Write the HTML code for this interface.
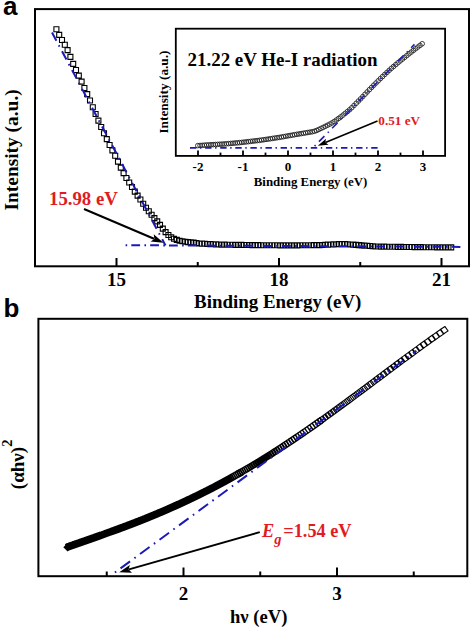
<!DOCTYPE html>
<html><head><meta charset="utf-8"><style>
html,body{margin:0;padding:0;background:#fff;width:472px;height:628px;overflow:hidden}
svg{display:block}
.s{font-family:"Liberation Serif",serif;font-weight:bold}
.ss{font-family:"Liberation Sans",sans-serif!important;font-weight:bold}
text{font-family:"Liberation Serif",serif}
</style></head><body>
<svg width="472" height="628" viewBox="0 0 472 628"><rect x="35" y="9.1" width="434" height="257.2" fill="none" stroke="#000" stroke-width="2"/>
<line x1="116.5" y1="266" x2="116.5" y2="258" stroke="#000" stroke-width="2"/>
<line x1="279" y1="266" x2="279" y2="258" stroke="#000" stroke-width="2"/>
<line x1="441.5" y1="266" x2="441.5" y2="258" stroke="#000" stroke-width="2"/>
<line x1="197.75" y1="266" x2="197.75" y2="262" stroke="#000" stroke-width="2"/>
<line x1="360.25" y1="266" x2="360.25" y2="262" stroke="#000" stroke-width="2"/>
<path d="M53.9 26.7h5v5h-5zM56.7 32.39h5v5h-5zM59.5 37.49h5v5h-5zM62.3 42.24h5v5h-5zM65.1 47.66h5v5h-5zM67.9 54.41h5v5h-5zM70.7 61.36h5v5h-5zM73.5 67.46h5v5h-5zM76.3 73.09h5v5h-5zM79.1 79.11h5v5h-5zM81.9 85.49h5v5h-5zM84.7 91.66h5v5h-5zM87.5 97.99h5v5h-5zM90.3 104.78h5v5h-5zM93.1 111.54h5v5h-5zM95.9 118.11h5v5h-5zM98.7 124.55h5v5h-5zM101.5 130.71h5v5h-5zM104.3 136.66h5v5h-5zM107.1 142.43h5v5h-5zM109.9 147.89h5v5h-5zM112.7 153.29h5v5h-5zM115.5 159.13h5v5h-5zM118.3 165.17h5v5h-5zM121.1 170.65h5v5h-5zM123.9 175.44h5v5h-5zM126.7 179.93h5v5h-5zM129.5 184.56h5v5h-5zM132.3 189.08h5v5h-5zM135.1 193.08h5v5h-5zM137.9 197.03h5v5h-5zM140.7 201.29h5v5h-5zM143.5 205.3h5v5h-5zM146.3 208.73h5v5h-5zM149.1 212.19h5v5h-5zM151.9 215.65h5v5h-5zM154.7 218.9h5v5h-5zM157.5 222.36h5v5h-5zM160.3 226.09h5v5h-5zM163.1 229.63h5v5h-5zM165.9 232.56h5v5h-5zM168.7 234.73h5v5h-5zM171.5 236.29h5v5h-5zM174.3 237.42h5v5h-5zM177.1 238.21h5v5h-5zM179.9 238.79h5v5h-5zM182.7 239.27h5v5h-5zM185.5 239.63h5v5h-5zM188.3 239.89h5v5h-5zM191.1 240.15h5v5h-5zM193.9 240.52h5v5h-5zM196.7 240.93h5v5h-5zM199.5 241.17h5v5h-5zM202.3 241.32h5v5h-5zM205.1 241.46h5v5h-5zM207.9 241.6h5v5h-5zM210.7 241.75h5v5h-5zM213.5 241.89h5v5h-5zM216.3 242.02h5v5h-5zM219.1 242.11h5v5h-5zM221.9 242.17h5v5h-5zM224.7 242.21h5v5h-5zM227.5 242.25h5v5h-5zM230.3 242.29h5v5h-5zM233.1 242.33h5v5h-5zM235.9 242.38h5v5h-5zM238.7 242.42h5v5h-5zM241.5 242.46h5v5h-5zM244.3 242.5h5v5h-5zM247.1 242.54h5v5h-5zM249.9 242.59h5v5h-5zM252.7 242.63h5v5h-5zM255.5 242.67h5v5h-5zM258.3 242.7h5v5h-5zM261.1 242.72h5v5h-5zM263.9 242.74h5v5h-5zM266.7 242.76h5v5h-5zM269.5 242.78h5v5h-5zM272.3 242.8h5v5h-5zM275.1 242.82h5v5h-5zM277.9 242.84h5v5h-5zM280.7 242.85h5v5h-5zM283.5 242.87h5v5h-5zM286.3 242.89h5v5h-5zM289.1 242.88h5v5h-5zM291.9 242.86h5v5h-5zM294.7 242.83h5v5h-5zM297.5 242.8h5v5h-5zM300.3 242.77h5v5h-5zM303.1 242.74h5v5h-5zM305.9 242.72h5v5h-5zM308.7 242.69h5v5h-5zM311.5 242.66h5v5h-5zM314.3 242.63h5v5h-5zM317.1 242.58h5v5h-5zM319.9 242.47h5v5h-5zM322.7 242.32h5v5h-5zM325.5 242.17h5v5h-5zM328.3 242.02h5v5h-5zM331.1 241.88h5v5h-5zM333.9 241.77h5v5h-5zM336.7 241.67h5v5h-5zM339.5 241.59h5v5h-5zM342.3 241.58h5v5h-5zM345.1 241.71h5v5h-5zM347.9 241.93h5v5h-5zM350.7 242.16h5v5h-5zM353.5 242.38h5v5h-5zM356.3 242.61h5v5h-5zM359.1 242.84h5v5h-5zM361.9 243.08h5v5h-5zM364.7 243.32h5v5h-5zM367.5 243.57h5v5h-5zM370.3 243.8h5v5h-5zM373.1 243.97h5v5h-5zM375.9 244.05h5v5h-5zM378.7 244.1h5v5h-5zM381.5 244.14h5v5h-5zM384.3 244.19h5v5h-5zM387.1 244.23h5v5h-5zM389.9 244.28h5v5h-5zM392.7 244.32h5v5h-5zM395.5 244.37h5v5h-5zM398.3 244.41h5v5h-5zM401.1 244.45h5v5h-5zM403.9 244.49h5v5h-5zM406.7 244.52h5v5h-5zM409.5 244.56h5v5h-5zM412.3 244.6h5v5h-5zM415.1 244.63h5v5h-5zM417.9 244.67h5v5h-5zM420.7 244.71h5v5h-5zM423.5 244.75h5v5h-5zM426.3 244.78h5v5h-5zM429.1 244.8h5v5h-5zM431.9 244.82h5v5h-5zM434.7 244.83h5v5h-5zM437.5 244.85h5v5h-5zM440.3 244.86h5v5h-5zM443.1 244.87h5v5h-5zM445.9 244.88h5v5h-5zM448.7 244.9h5v5h-5z" fill="none" stroke="#000" stroke-width="1.1"/>
<line x1="84" y1="209" x2="154.01" y2="238.71" stroke="#000" stroke-width="2"/>
<path d="M163.4 242.7L150.61 241.62L154.42 238.89L153.73 234.25Z" fill="#000"/>
<text x="3" y="15.4" class="ss" font-size="26">a</text>
<text x="116.5" y="285.8" text-anchor="middle" class="s" font-size="19">15</text>
<text x="279" y="285.8" text-anchor="middle" class="s" font-size="19">18</text>
<text x="441.5" y="285.8" text-anchor="middle" class="s" font-size="19">21</text>
<text x="194" y="308.2" class="s" font-size="18.95">Binding Energy (eV)</text>
<text transform="translate(18 210.5) rotate(-90)" class="s" font-size="19.4">Intensity (a.u.)</text>
<text x="49" y="204.5" class="s" font-size="18.8" fill="#e01b24">15.98 eV</text>
<rect x="175.8" y="28.7" width="269.3" height="127.2" fill="none" stroke="#000" stroke-width="1.8"/>
<line x1="198" y1="155.6" x2="198" y2="150.4" stroke="#000" stroke-width="1.8"/>
<line x1="220.5" y1="155.6" x2="220.5" y2="152.6" stroke="#000" stroke-width="1.8"/>
<line x1="243" y1="155.6" x2="243" y2="150.4" stroke="#000" stroke-width="1.8"/>
<line x1="265.5" y1="155.6" x2="265.5" y2="152.6" stroke="#000" stroke-width="1.8"/>
<line x1="288" y1="155.6" x2="288" y2="150.4" stroke="#000" stroke-width="1.8"/>
<line x1="310.5" y1="155.6" x2="310.5" y2="152.6" stroke="#000" stroke-width="1.8"/>
<line x1="333" y1="155.6" x2="333" y2="150.4" stroke="#000" stroke-width="1.8"/>
<line x1="355.5" y1="155.6" x2="355.5" y2="152.6" stroke="#000" stroke-width="1.8"/>
<line x1="378" y1="155.6" x2="378" y2="150.4" stroke="#000" stroke-width="1.8"/>
<line x1="400.5" y1="155.6" x2="400.5" y2="152.6" stroke="#000" stroke-width="1.8"/>
<line x1="423" y1="155.6" x2="423" y2="150.4" stroke="#000" stroke-width="1.8"/>
<text x="198" y="170.6" text-anchor="middle" class="s" font-size="13">-2</text>
<text x="243" y="170.6" text-anchor="middle" class="s" font-size="13">-1</text>
<text x="288" y="170.6" text-anchor="middle" class="s" font-size="13">0</text>
<text x="333" y="170.6" text-anchor="middle" class="s" font-size="13">1</text>
<text x="378" y="170.6" text-anchor="middle" class="s" font-size="13">2</text>
<text x="423" y="170.6" text-anchor="middle" class="s" font-size="13">3</text>
<text x="253.8" y="185.9" class="s" font-size="12.85">Binding Energy (eV)</text>
<text transform="translate(167.8 133.6) rotate(-90)" class="s" font-size="13.3">Intensity (a.u.)</text>
<text x="187.5" y="65.8" class="s" font-size="18.95">21.22 eV He-I radiation</text>
<text x="378.3" y="125.4" class="s" font-size="13.2" fill="#e01b24">0.51 eV</text>
<path d="M195.5 145.6a2.3 2.3 0 1 0 4.6 0a2.3 2.3 0 1 0 -4.6 0M197.7 145.46a2.3 2.3 0 1 0 4.6 0a2.3 2.3 0 1 0 -4.6 0M199.9 145.31a2.3 2.3 0 1 0 4.6 0a2.3 2.3 0 1 0 -4.6 0M202.1 145.17a2.3 2.3 0 1 0 4.6 0a2.3 2.3 0 1 0 -4.6 0M204.3 145.02a2.3 2.3 0 1 0 4.6 0a2.3 2.3 0 1 0 -4.6 0M206.5 144.88a2.3 2.3 0 1 0 4.6 0a2.3 2.3 0 1 0 -4.6 0M208.7 144.75a2.3 2.3 0 1 0 4.6 0a2.3 2.3 0 1 0 -4.6 0M210.9 144.62a2.3 2.3 0 1 0 4.6 0a2.3 2.3 0 1 0 -4.6 0M213.1 144.49a2.3 2.3 0 1 0 4.6 0a2.3 2.3 0 1 0 -4.6 0M215.3 144.37a2.3 2.3 0 1 0 4.6 0a2.3 2.3 0 1 0 -4.6 0M217.5 144.24a2.3 2.3 0 1 0 4.6 0a2.3 2.3 0 1 0 -4.6 0M219.7 144.11a2.3 2.3 0 1 0 4.6 0a2.3 2.3 0 1 0 -4.6 0M221.9 143.97a2.3 2.3 0 1 0 4.6 0a2.3 2.3 0 1 0 -4.6 0M224.1 143.79a2.3 2.3 0 1 0 4.6 0a2.3 2.3 0 1 0 -4.6 0M226.3 143.6a2.3 2.3 0 1 0 4.6 0a2.3 2.3 0 1 0 -4.6 0M228.5 143.41a2.3 2.3 0 1 0 4.6 0a2.3 2.3 0 1 0 -4.6 0M230.7 143.21a2.3 2.3 0 1 0 4.6 0a2.3 2.3 0 1 0 -4.6 0M232.9 143.02a2.3 2.3 0 1 0 4.6 0a2.3 2.3 0 1 0 -4.6 0M235.1 142.83a2.3 2.3 0 1 0 4.6 0a2.3 2.3 0 1 0 -4.6 0M237.3 142.62a2.3 2.3 0 1 0 4.6 0a2.3 2.3 0 1 0 -4.6 0M239.5 142.39a2.3 2.3 0 1 0 4.6 0a2.3 2.3 0 1 0 -4.6 0M241.7 142.14a2.3 2.3 0 1 0 4.6 0a2.3 2.3 0 1 0 -4.6 0M243.9 141.89a2.3 2.3 0 1 0 4.6 0a2.3 2.3 0 1 0 -4.6 0M246.1 141.63a2.3 2.3 0 1 0 4.6 0a2.3 2.3 0 1 0 -4.6 0M248.3 141.38a2.3 2.3 0 1 0 4.6 0a2.3 2.3 0 1 0 -4.6 0M250.5 141.13a2.3 2.3 0 1 0 4.6 0a2.3 2.3 0 1 0 -4.6 0M252.7 140.88a2.3 2.3 0 1 0 4.6 0a2.3 2.3 0 1 0 -4.6 0M254.9 140.62a2.3 2.3 0 1 0 4.6 0a2.3 2.3 0 1 0 -4.6 0M257.1 140.36a2.3 2.3 0 1 0 4.6 0a2.3 2.3 0 1 0 -4.6 0M259.3 140.05a2.3 2.3 0 1 0 4.6 0a2.3 2.3 0 1 0 -4.6 0M261.5 139.73a2.3 2.3 0 1 0 4.6 0a2.3 2.3 0 1 0 -4.6 0M263.7 139.4a2.3 2.3 0 1 0 4.6 0a2.3 2.3 0 1 0 -4.6 0M265.9 139.07a2.3 2.3 0 1 0 4.6 0a2.3 2.3 0 1 0 -4.6 0M268.1 138.74a2.3 2.3 0 1 0 4.6 0a2.3 2.3 0 1 0 -4.6 0M270.3 138.41a2.3 2.3 0 1 0 4.6 0a2.3 2.3 0 1 0 -4.6 0M272.5 138.08a2.3 2.3 0 1 0 4.6 0a2.3 2.3 0 1 0 -4.6 0M274.7 137.75a2.3 2.3 0 1 0 4.6 0a2.3 2.3 0 1 0 -4.6 0M276.9 137.41a2.3 2.3 0 1 0 4.6 0a2.3 2.3 0 1 0 -4.6 0M279.1 137.04a2.3 2.3 0 1 0 4.6 0a2.3 2.3 0 1 0 -4.6 0M281.3 136.66a2.3 2.3 0 1 0 4.6 0a2.3 2.3 0 1 0 -4.6 0M283.5 136.26a2.3 2.3 0 1 0 4.6 0a2.3 2.3 0 1 0 -4.6 0M285.7 135.87a2.3 2.3 0 1 0 4.6 0a2.3 2.3 0 1 0 -4.6 0M287.9 135.48a2.3 2.3 0 1 0 4.6 0a2.3 2.3 0 1 0 -4.6 0M290.1 135.09a2.3 2.3 0 1 0 4.6 0a2.3 2.3 0 1 0 -4.6 0M292.3 134.7a2.3 2.3 0 1 0 4.6 0a2.3 2.3 0 1 0 -4.6 0M294.5 134.33a2.3 2.3 0 1 0 4.6 0a2.3 2.3 0 1 0 -4.6 0M296.7 133.97a2.3 2.3 0 1 0 4.6 0a2.3 2.3 0 1 0 -4.6 0M298.9 133.6a2.3 2.3 0 1 0 4.6 0a2.3 2.3 0 1 0 -4.6 0M301.1 133.23a2.3 2.3 0 1 0 4.6 0a2.3 2.3 0 1 0 -4.6 0M303.3 132.87a2.3 2.3 0 1 0 4.6 0a2.3 2.3 0 1 0 -4.6 0M305.5 132.5a2.3 2.3 0 1 0 4.6 0a2.3 2.3 0 1 0 -4.6 0M307.7 132.13a2.3 2.3 0 1 0 4.6 0a2.3 2.3 0 1 0 -4.6 0M309.9 131.77a2.3 2.3 0 1 0 4.6 0a2.3 2.3 0 1 0 -4.6 0M312.1 131.27a2.3 2.3 0 1 0 4.6 0a2.3 2.3 0 1 0 -4.6 0M314.3 130.49a2.3 2.3 0 1 0 4.6 0a2.3 2.3 0 1 0 -4.6 0M316.5 129.48a2.3 2.3 0 1 0 4.6 0a2.3 2.3 0 1 0 -4.6 0M318.7 128.42a2.3 2.3 0 1 0 4.6 0a2.3 2.3 0 1 0 -4.6 0M320.9 127.36a2.3 2.3 0 1 0 4.6 0a2.3 2.3 0 1 0 -4.6 0M323.1 126.29a2.3 2.3 0 1 0 4.6 0a2.3 2.3 0 1 0 -4.6 0M325.3 125.2a2.3 2.3 0 1 0 4.6 0a2.3 2.3 0 1 0 -4.6 0M327.5 124.1a2.3 2.3 0 1 0 4.6 0a2.3 2.3 0 1 0 -4.6 0M329.7 122.9a2.3 2.3 0 1 0 4.6 0a2.3 2.3 0 1 0 -4.6 0M331.9 121.49a2.3 2.3 0 1 0 4.6 0a2.3 2.3 0 1 0 -4.6 0M334.1 119.98a2.3 2.3 0 1 0 4.6 0a2.3 2.3 0 1 0 -4.6 0M336.3 118.44a2.3 2.3 0 1 0 4.6 0a2.3 2.3 0 1 0 -4.6 0M338.5 116.82a2.3 2.3 0 1 0 4.6 0a2.3 2.3 0 1 0 -4.6 0M340.7 115.1a2.3 2.3 0 1 0 4.6 0a2.3 2.3 0 1 0 -4.6 0M342.9 113.34a2.3 2.3 0 1 0 4.6 0a2.3 2.3 0 1 0 -4.6 0M345.1 111.58a2.3 2.3 0 1 0 4.6 0a2.3 2.3 0 1 0 -4.6 0M347.3 109.73a2.3 2.3 0 1 0 4.6 0a2.3 2.3 0 1 0 -4.6 0M349.5 107.68a2.3 2.3 0 1 0 4.6 0a2.3 2.3 0 1 0 -4.6 0M351.7 105.5a2.3 2.3 0 1 0 4.6 0a2.3 2.3 0 1 0 -4.6 0M353.9 103.3a2.3 2.3 0 1 0 4.6 0a2.3 2.3 0 1 0 -4.6 0M356.1 101.09a2.3 2.3 0 1 0 4.6 0a2.3 2.3 0 1 0 -4.6 0M358.3 98.85a2.3 2.3 0 1 0 4.6 0a2.3 2.3 0 1 0 -4.6 0M360.5 96.56a2.3 2.3 0 1 0 4.6 0a2.3 2.3 0 1 0 -4.6 0M362.7 94.25a2.3 2.3 0 1 0 4.6 0a2.3 2.3 0 1 0 -4.6 0M364.9 91.94a2.3 2.3 0 1 0 4.6 0a2.3 2.3 0 1 0 -4.6 0M367.1 89.65a2.3 2.3 0 1 0 4.6 0a2.3 2.3 0 1 0 -4.6 0M369.3 87.41a2.3 2.3 0 1 0 4.6 0a2.3 2.3 0 1 0 -4.6 0M371.5 85.2a2.3 2.3 0 1 0 4.6 0a2.3 2.3 0 1 0 -4.6 0M373.7 83a2.3 2.3 0 1 0 4.6 0a2.3 2.3 0 1 0 -4.6 0M375.9 80.81a2.3 2.3 0 1 0 4.6 0a2.3 2.3 0 1 0 -4.6 0M378.1 78.64a2.3 2.3 0 1 0 4.6 0a2.3 2.3 0 1 0 -4.6 0M380.3 76.53a2.3 2.3 0 1 0 4.6 0a2.3 2.3 0 1 0 -4.6 0M382.5 74.44a2.3 2.3 0 1 0 4.6 0a2.3 2.3 0 1 0 -4.6 0M384.7 72.35a2.3 2.3 0 1 0 4.6 0a2.3 2.3 0 1 0 -4.6 0M386.9 70.3a2.3 2.3 0 1 0 4.6 0a2.3 2.3 0 1 0 -4.6 0M389.1 68.33a2.3 2.3 0 1 0 4.6 0a2.3 2.3 0 1 0 -4.6 0M391.3 66.45a2.3 2.3 0 1 0 4.6 0a2.3 2.3 0 1 0 -4.6 0M393.5 64.59a2.3 2.3 0 1 0 4.6 0a2.3 2.3 0 1 0 -4.6 0M395.7 62.74a2.3 2.3 0 1 0 4.6 0a2.3 2.3 0 1 0 -4.6 0M397.9 60.93a2.3 2.3 0 1 0 4.6 0a2.3 2.3 0 1 0 -4.6 0M400.1 59.15a2.3 2.3 0 1 0 4.6 0a2.3 2.3 0 1 0 -4.6 0M402.3 57.37a2.3 2.3 0 1 0 4.6 0a2.3 2.3 0 1 0 -4.6 0M404.5 55.59a2.3 2.3 0 1 0 4.6 0a2.3 2.3 0 1 0 -4.6 0M406.7 53.82a2.3 2.3 0 1 0 4.6 0a2.3 2.3 0 1 0 -4.6 0M408.9 52.09a2.3 2.3 0 1 0 4.6 0a2.3 2.3 0 1 0 -4.6 0M411.1 50.41a2.3 2.3 0 1 0 4.6 0a2.3 2.3 0 1 0 -4.6 0M413.3 48.74a2.3 2.3 0 1 0 4.6 0a2.3 2.3 0 1 0 -4.6 0M415.5 47.08a2.3 2.3 0 1 0 4.6 0a2.3 2.3 0 1 0 -4.6 0M417.7 45.42a2.3 2.3 0 1 0 4.6 0a2.3 2.3 0 1 0 -4.6 0M419.9 43.75a2.3 2.3 0 1 0 4.6 0a2.3 2.3 0 1 0 -4.6 0" fill="none" stroke="#1a1a1a" stroke-width="0.85"/>
<line x1="377.5" y1="121" x2="325.38" y2="142.57" stroke="#000" stroke-width="1.6"/>
<path d="M317.8 145.7L325.96 138.75L325.34 142.58L328.49 144.85Z" fill="#000"/>
<text x="3.5" y="317.1" class="ss" font-size="26">b</text>
<rect x="38.4" y="318.8" width="428.9" height="257.4" fill="none" stroke="#000" stroke-width="2"/>
<line x1="183.5" y1="576" x2="183.5" y2="567.5" stroke="#000" stroke-width="2"/>
<line x1="337" y1="576" x2="337" y2="567.5" stroke="#000" stroke-width="2"/>
<line x1="106.75" y1="576" x2="106.75" y2="571.5" stroke="#000" stroke-width="2"/>
<line x1="260.25" y1="576" x2="260.25" y2="571.5" stroke="#000" stroke-width="2"/>
<line x1="413.75" y1="576" x2="413.75" y2="571.5" stroke="#000" stroke-width="2"/>
<text x="183.5" y="600" text-anchor="middle" class="s" font-size="19">2</text>
<text x="337" y="600" text-anchor="middle" class="s" font-size="19">3</text>
<text x="230" y="623" class="s" font-size="18.6">h&#957; (eV)</text>
<text transform="translate(23.8 489.2) rotate(-90)" class="s" font-size="19">(&#945;h&#957;)<tspan font-size="14.5" dy="-11.5">2</tspan></text>
<text x="262" y="537" class="s" font-size="18.3" fill="#e01b24"><tspan font-style="italic">E</tspan><tspan font-style="italic" font-size="14.5" dy="6.5">g</tspan><tspan dy="-6.5" dx="1.8">=1.54 eV</tspan></text>
<path d="M440.38 329.54L444.91 326.43L448.02 330.96L443.49 334.07ZM436.17 332.46L440.69 329.32L443.83 333.84L439.31 336.98ZM432.03 335.36L436.53 332.21L439.69 336.71L435.19 339.87ZM427.95 338.26L432.43 335.08L435.61 339.57L431.12 342.75ZM423.92 341.14L428.4 337.94L431.59 342.41L427.12 345.61ZM419.96 343.99L424.42 340.78L427.63 345.24L423.17 348.46ZM416.05 346.83L420.5 343.6L423.73 348.05L419.28 351.28ZM412.2 349.64L416.64 346.4L419.88 350.84L415.44 354.08ZM408.4 352.43L412.83 349.17L416.09 353.61L411.65 356.86ZM404.65 355.19L409.08 351.93L412.34 356.35L407.92 359.62ZM400.96 357.92L405.38 354.65L408.65 359.07L404.23 362.34ZM397.32 360.63L401.74 357.35L405.01 361.76L400.6 365.04ZM393.73 363.3L398.14 360.02L401.42 364.43L397.01 367.71ZM390.19 365.94L394.59 362.65L397.88 367.06L393.47 370.35ZM386.69 368.55L391.1 365.26L394.39 369.67L389.98 372.96ZM383.24 371.13L387.65 367.84L390.94 372.24L386.54 375.54ZM379.84 373.68L384.24 370.39L387.54 374.79L383.14 378.08ZM376.48 376.2L380.89 372.9L384.18 377.3L379.78 380.6ZM373.17 378.68L377.57 375.38L380.87 379.78L376.47 383.08ZM369.9 381.12L374.31 377.83L377.6 382.23L373.2 385.53ZM366.68 383.54L371.08 380.24L374.38 384.65L369.97 387.94ZM363.49 385.92L367.9 382.62L371.19 387.03L366.79 390.32ZM360.35 388.26L364.76 384.97L368.05 389.38L363.64 392.67ZM357.25 390.57L361.66 387.29L364.94 391.7L360.53 394.98ZM354.18 392.85L358.59 389.57L361.88 393.98L357.46 397.26ZM351.16 395.09L355.57 391.82L358.85 396.23L354.43 399.51ZM348.17 397.3L352.59 394.03L355.86 398.45L351.44 401.73ZM345.22 399.48L349.64 396.21L352.91 400.64L348.48 403.91ZM342.3 401.62L346.73 398.36L349.99 402.79L345.56 406.05ZM339.42 403.73L343.86 400.48L347.11 404.92L342.68 408.17ZM336.58 405.81L341.02 402.56L344.27 407L339.83 410.25ZM333.77 407.86L338.22 404.62L341.46 409.06L337.01 412.3ZM331 409.87L335.45 406.64L338.68 411.09L334.23 414.32ZM328.26 411.85L332.71 408.63L335.94 413.08L331.48 416.31ZM325.55 413.8L330.01 410.58L333.22 415.05L328.76 418.26ZM322.87 415.71L327.34 412.51L330.55 416.98L326.08 420.18ZM320.22 417.6L324.7 414.4L327.9 418.88L323.42 422.08ZM317.61 419.46L322.09 416.27L325.28 420.75L320.8 423.94Z" fill="none" stroke="#000" stroke-width="1.1"/>
<path d="M314.82 421.25L319.55 417.9L322.9 422.63L318.17 425.98ZM312.26 423.04L317 419.7L320.35 424.44L315.61 427.79ZM309.74 424.81L314.49 421.48L317.82 426.23L313.07 429.56ZM307.24 426.55L312 423.23L315.32 427.99L310.56 431.31ZM304.78 428.26L309.54 424.95L312.85 429.71L308.09 433.02ZM302.34 429.94L307.11 426.64L310.41 431.42L305.64 434.71ZM299.93 431.6L304.71 428.31L307.99 433.09L303.21 436.37ZM297.54 433.22L302.33 429.95L305.6 434.73L300.82 438.01ZM295.18 434.82L299.98 431.56L303.24 436.35L298.45 439.62ZM292.85 436.4L297.65 433.15L300.91 437.95L296.1 441.2ZM290.54 437.94L295.36 434.71L298.6 439.52L293.78 442.76ZM288.26 439.47L293.08 436.24L296.31 441.06L291.49 444.29ZM286.01 440.96L290.84 437.75L294.05 442.58L289.22 445.79ZM283.78 442.44L288.61 439.24L291.81 444.07L286.98 447.27ZM281.57 443.89L286.41 440.7L289.6 445.54L284.76 448.73ZM279.38 445.31L284.24 442.13L287.41 446.99L282.56 450.16ZM277.22 446.71L282.08 443.55L285.25 448.41L280.39 451.57ZM275.08 448.09L279.95 444.94L283.11 449.81L278.24 452.96ZM272.97 449.45L277.85 446.31L280.99 451.19L276.11 454.32ZM270.88 450.78L275.76 447.66L278.89 452.54L274 455.67ZM268.8 452.09L273.7 448.98L276.81 453.87L271.92 456.99ZM266.76 453.38L271.66 450.28L274.76 455.19L269.85 458.29ZM264.73 454.65L269.64 451.57L272.72 456.48L267.81 459.56ZM262.72 455.9L267.64 452.83L270.71 457.75L265.79 460.82ZM260.73 457.13L265.66 454.07L268.72 459L263.79 462.06ZM258.76 458.34L263.7 455.29L266.75 460.23L261.81 463.28ZM256.82 459.53L261.76 456.5L264.79 461.44L259.85 464.47ZM254.89 460.7L259.84 457.68L262.86 462.63L257.91 465.65ZM252.98 461.85L257.94 458.85L260.95 463.81L255.99 466.81ZM251.09 462.99L256.06 459.99L259.05 464.96L254.09 467.95ZM249.22 464.1L254.2 461.12L257.18 466.1L252.2 469.08ZM247.37 465.2L252.35 462.23L255.32 467.22L250.34 470.18ZM245.54 466.28L250.53 463.33L253.48 468.32L248.49 471.27ZM243.72 467.35L248.72 464.4L251.66 469.4L246.66 472.34ZM241.92 468.39L246.93 465.46L249.86 470.47L244.85 473.4ZM240.14 469.42L245.15 466.51L248.07 471.52L243.06 474.44ZM238.38 470.44L243.4 467.53L246.3 472.55L241.28 475.46ZM236.63 471.43L241.66 468.54L244.55 473.57L239.52 476.46Z" fill="none" stroke="#000" stroke-width="1.3"/>
<path d="M234.76 472.38L239.97 469.4L242.95 474.61L237.74 477.59ZM233.05 473.35L238.27 470.38L241.23 475.6L236.01 478.57ZM231.35 474.3L236.58 471.35L239.53 476.57L234.3 479.53ZM229.67 475.24L234.9 472.3L237.84 477.53L232.61 480.47ZM228.01 476.16L233.25 473.24L236.17 478.48L230.93 481.4ZM226.36 477.07L231.6 474.16L234.51 479.41L229.27 482.32ZM224.72 477.97L229.98 475.07L232.87 480.32L227.62 483.22ZM223.1 478.85L228.36 475.96L231.25 481.23L225.99 484.11ZM221.5 479.72L226.76 476.85L229.64 482.11L224.37 484.99ZM219.91 480.57L225.18 477.72L228.04 482.99L222.77 485.85ZM218.33 481.42L223.61 478.57L226.46 483.85L221.18 486.7ZM216.77 482.25L222.06 479.41L224.89 484.7L219.6 487.54ZM215.22 483.07L220.52 480.25L223.34 485.54L218.04 488.36ZM213.69 483.87L218.99 481.06L221.8 486.37L216.5 489.18ZM212.17 484.67L217.48 481.87L220.27 487.18L214.96 489.98ZM210.66 485.45L215.98 482.67L218.76 487.98L213.45 490.77ZM209.17 486.22L214.49 483.45L217.26 488.77L211.94 491.54ZM207.69 486.98L213.02 484.22L215.78 489.55L210.45 492.31ZM206.22 487.73L211.56 484.99L214.3 490.32L208.97 493.07ZM204.77 488.47L210.11 485.74L212.85 491.08L207.5 493.81ZM203.33 489.2L208.68 486.48L211.4 491.82L206.05 494.55ZM201.9 489.92L207.25 487.21L209.96 492.56L204.61 495.27ZM200.48 490.63L205.84 487.93L208.54 493.29L203.18 495.98ZM199.08 491.32L204.44 488.64L207.13 494L201.77 496.69ZM197.69 492.01L203.06 489.34L205.73 494.71L200.36 497.38ZM196.31 492.69L201.68 490.03L204.35 495.4L198.97 498.07ZM194.94 493.36L200.32 490.71L202.97 496.09L197.59 498.74ZM193.58 494.02L198.97 491.38L201.61 496.77L196.22 499.41ZM192.24 494.67L197.63 492.04L200.26 497.43L194.87 500.06ZM190.9 495.31L196.3 492.69L198.92 498.09L193.52 500.71ZM189.58 495.95L194.98 493.34L197.59 498.74L192.19 501.35ZM188.27 496.57L193.67 493.98L196.27 499.38L190.86 501.98ZM186.96 497.19L192.38 494.6L194.96 500.02L189.55 502.6ZM185.67 497.8L191.09 495.22L193.67 500.64L188.25 503.22ZM184.39 498.4L189.82 495.83L192.38 501.26L186.96 503.82ZM183.12 498.99L188.55 496.44L191.11 501.87L185.68 504.42ZM181.86 499.58L187.3 497.03L189.84 502.47L184.41 505.01ZM180.62 500.15L186.05 497.62L188.59 503.06L183.15 505.59ZM179.38 500.72L184.82 498.2L187.34 503.64L181.9 506.17ZM178.15 501.29L183.59 498.77L186.11 504.22L180.66 506.73ZM176.93 501.84L182.38 499.34L184.88 504.79L179.43 507.29ZM175.72 502.39L181.17 499.9L183.67 505.35L178.21 507.85ZM174.52 502.93L179.98 500.45L182.46 505.91L177 508.39ZM173.33 503.47L178.79 500.99L181.27 506.46L175.8 508.93ZM172.15 504L177.62 501.53L180.08 507L174.61 509.46ZM170.97 504.52L176.45 502.06L178.91 507.53L173.43 509.99ZM169.81 505.03L175.29 502.58L177.74 508.06L172.26 510.51ZM168.66 505.54L174.14 503.1L176.58 508.58L171.1 511.02ZM167.51 506.04L173 503.61L175.43 509.1L169.94 511.53ZM166.38 506.54L171.87 504.12L174.29 509.61L168.8 512.03ZM165.25 507.03L170.74 504.62L173.16 510.11L167.66 512.52ZM164.13 507.52L169.63 505.11L172.03 510.61L166.53 513.01ZM163.02 507.99L168.52 505.6L170.92 511.1L165.42 513.5ZM161.92 508.47L167.43 506.08L169.81 511.59L164.31 513.97ZM160.83 508.94L166.34 506.56L168.71 512.07L163.2 514.44ZM159.74 509.4L165.25 507.03L167.62 512.54L162.11 514.91ZM158.67 509.85L164.18 507.49L166.54 513.01L161.03 515.37ZM157.6 510.31L163.12 507.95L165.47 513.47L159.95 515.83ZM156.54 510.75L162.06 508.41L164.4 513.93L158.88 516.28ZM155.48 511.19L161.01 508.86L163.35 514.38L157.82 516.72ZM154.44 511.63L159.97 509.3L162.3 514.83L156.77 517.16ZM153.4 512.06L158.93 509.74L161.25 515.27L155.72 517.6ZM152.37 512.49L157.91 510.18L160.22 515.71L154.68 518.03ZM151.35 512.91L156.89 510.6L159.19 516.14L153.65 518.45ZM150.33 513.33L155.88 511.03L158.17 516.57L152.63 518.87ZM149.33 513.74L154.87 511.45L157.16 516.99L151.62 519.29ZM148.33 514.15L153.87 511.87L156.16 517.41L150.61 519.7ZM147.33 514.55L152.88 512.28L155.16 517.83L149.61 520.11ZM146.35 514.95L151.9 512.68L154.17 518.24L148.62 520.51ZM145.37 515.35L150.92 513.09L153.19 518.64L147.63 520.91ZM144.4 515.74L149.96 513.48L152.21 519.04L146.65 521.3ZM143.43 516.13L148.99 513.88L151.24 519.44L145.68 521.69ZM142.47 516.51L148.04 514.27L150.28 519.83L144.72 522.08ZM141.52 516.89L147.09 514.65L149.33 520.22L143.76 522.46ZM140.58 517.27L146.15 515.03L148.38 520.6L142.81 522.84ZM139.64 517.64L145.21 515.41L147.44 520.98L141.86 523.21ZM138.71 518.01L144.28 515.79L146.5 521.36L140.93 523.58ZM137.78 518.37L143.36 516.16L145.57 521.73L140 523.95ZM136.86 518.73L142.44 516.52L144.65 522.1L139.07 524.31ZM135.95 519.09L141.53 516.89L143.73 522.47L138.15 524.67ZM135.05 519.44L140.63 517.24L142.83 522.83L137.24 525.02ZM134.15 519.79L139.73 517.6L141.92 523.19L136.34 525.38ZM133.25 520.14L138.84 517.95L141.02 523.54L135.44 525.72ZM132.37 520.48L137.96 518.3L140.13 523.89L134.54 526.07ZM131.48 520.82L137.08 518.65L139.25 524.24L133.66 526.41ZM130.61 521.16L136.2 518.99L138.37 524.58L132.78 526.75ZM129.74 521.49L135.34 519.33L137.5 524.92L131.9 527.09ZM128.87 521.82L134.47 519.66L136.63 525.26L131.03 527.42ZM128.02 522.15L133.62 519.99L135.77 525.6L130.17 527.75ZM127.16 522.47L132.77 520.32L134.91 525.93L129.31 528.07ZM126.32 522.79L131.92 520.65L134.06 526.25L128.46 528.4ZM125.48 523.11L131.08 520.97L133.22 526.58L127.61 528.72ZM124.64 523.43L130.25 521.29L132.38 526.9L126.77 529.03ZM123.81 523.74L129.42 521.61L131.55 527.22L125.94 529.35ZM122.99 524.05L128.6 521.92L130.72 527.54L125.11 529.66ZM122.17 524.36L127.78 522.24L129.9 527.85L124.29 529.97ZM121.35 524.66L126.97 522.54L129.08 528.16L123.47 530.27ZM120.55 524.96L126.16 522.85L128.27 528.47L122.66 530.58ZM119.74 525.26L125.36 523.15L127.47 528.77L121.85 530.88ZM118.94 525.56L124.56 523.45L126.67 529.07L121.05 531.18ZM118.15 525.85L123.77 523.75L125.87 529.37L120.25 531.47ZM117.36 526.14L122.99 524.05L125.08 529.67L119.46 531.76ZM116.58 526.43L122.2 524.34L124.29 529.97L118.67 532.06ZM115.8 526.72L121.43 524.63L123.51 530.26L117.89 532.34ZM115.03 527L120.66 524.92L122.74 530.55L117.11 532.63ZM114.26 527.28L119.89 525.21L121.97 530.83L116.34 532.91ZM113.5 527.56L119.13 525.49L121.2 531.12L115.57 533.19ZM112.74 527.84L118.37 525.77L120.44 531.4L114.81 533.47ZM111.99 528.12L117.62 526.05L119.69 531.68L114.05 533.75ZM111.24 528.39L116.87 526.32L118.94 531.96L113.3 534.02ZM110.49 528.66L116.13 526.6L118.19 532.23L112.55 534.29ZM109.75 528.93L115.39 526.87L117.45 532.51L111.81 534.56ZM109.02 529.19L114.66 527.14L116.71 532.78L111.07 534.83ZM108.29 529.46L113.93 527.41L115.98 533.04L110.34 535.1ZM107.56 529.72L113.2 527.67L115.25 533.31L109.61 535.36ZM106.84 529.98L112.48 527.94L114.53 533.58L108.89 535.62ZM106.12 530.24L111.76 528.2L113.81 533.84L108.17 535.88ZM105.41 530.5L111.05 528.46L113.09 534.1L107.45 536.14ZM104.7 530.75L110.34 528.71L112.38 534.36L106.74 536.39ZM104 531L109.64 528.97L111.68 534.61L106.03 536.65ZM103.3 531.25L108.94 529.22L110.97 534.87L105.33 536.9ZM102.6 531.5L108.25 529.47L110.28 535.12L104.63 537.15ZM101.91 531.75L107.56 529.72L109.58 535.37L103.94 537.4ZM101.22 531.99L106.87 529.97L108.9 535.62L103.25 537.64ZM100.54 532.24L106.19 530.22L108.21 535.86L102.56 537.89ZM99.86 532.48L105.51 530.46L107.53 536.11L101.88 538.13ZM99.18 532.72L104.84 530.7L106.85 536.35L101.2 538.37ZM98.51 532.96L104.16 530.94L106.18 536.59L100.53 538.61ZM97.85 533.19L103.5 531.18L105.51 536.83L99.86 538.85ZM97.18 533.43L102.84 531.42L104.85 537.07L99.19 539.08ZM96.52 533.66L102.18 531.65L104.19 537.31L98.53 539.32ZM95.87 533.9L101.52 531.89L103.53 537.54L97.88 539.55ZM95.22 534.13L100.87 532.12L102.88 537.77L97.22 539.78ZM94.57 534.35L100.22 532.35L102.23 538.01L96.57 540.01ZM93.92 534.58L99.58 532.58L101.58 538.24L95.93 540.24ZM93.28 534.81L98.94 532.81L100.94 538.46L95.28 540.46ZM92.65 535.03L98.3 533.03L100.3 538.69L94.65 540.69ZM92.01 535.25L97.67 533.26L99.67 538.91L94.01 540.91ZM91.38 535.48L97.04 533.48L99.04 539.14L93.38 541.13ZM90.76 535.69L96.42 533.7L98.41 539.36L92.75 541.35ZM90.14 535.91L95.79 533.92L97.79 539.58L92.13 541.57ZM89.52 536.13L95.18 534.14L97.17 539.8L91.51 541.79ZM88.9 536.35L94.56 534.36L96.55 540.02L90.89 542.01ZM88.29 536.56L93.95 534.57L95.94 540.23L90.28 542.22ZM87.68 536.77L93.34 534.79L95.33 540.45L89.67 542.43ZM87.08 536.99L92.74 535L94.72 540.66L89.06 542.65ZM86.47 537.2L92.14 535.21L94.12 540.87L88.46 542.86ZM85.88 537.4L91.54 535.42L93.52 541.08L87.86 543.07ZM85.28 537.61L90.94 535.63L92.93 541.29L87.26 543.28ZM84.69 537.82L90.35 535.84L92.33 541.5L86.67 543.48ZM84.1 538.02L89.76 536.04L91.74 541.71L86.08 543.69ZM83.52 538.23L89.18 536.25L91.16 541.91L85.5 543.89ZM82.93 538.43L88.6 536.45L90.58 542.12L84.91 544.1ZM82.35 538.63L88.02 536.65L90 542.32L84.33 544.3ZM81.78 538.83L87.44 536.86L89.42 542.52L83.76 544.5ZM81.21 539.03L86.87 537.06L88.85 542.72L83.18 544.7ZM80.64 539.23L86.3 537.26L88.28 542.92L82.61 544.9ZM80.07 539.43L85.74 537.45L87.71 543.12L82.05 545.09ZM79.51 539.62L85.17 537.65L87.15 543.32L81.48 545.29ZM78.95 539.82L84.61 537.84L86.59 543.51L80.92 545.49ZM78.39 540.01L84.06 538.04L86.03 543.71L80.36 545.68ZM77.84 540.21L83.5 538.23L85.48 543.9L79.81 545.87ZM77.28 540.4L82.95 538.42L84.92 544.09L79.26 546.06ZM76.74 540.59L82.4 538.62L84.38 544.28L78.71 546.25ZM76.19 540.78L81.86 538.81L83.83 544.47L78.16 546.44ZM75.65 540.97L81.32 538.99L83.29 544.66L77.62 546.63ZM75.11 541.15L80.78 539.18L82.75 544.85L77.08 546.82ZM74.57 541.34L80.24 539.37L82.21 545.04L76.54 547.01ZM74.04 541.53L79.71 539.56L81.68 545.22L76.01 547.19ZM73.51 541.71L79.17 539.74L81.15 545.41L75.48 547.38ZM72.98 541.9L78.65 539.92L80.62 545.59L74.95 547.56ZM72.45 542.08L78.12 540.11L80.09 545.77L74.42 547.74ZM71.93 542.26L77.6 540.29L79.57 545.96L73.9 547.93ZM71.41 542.44L77.08 540.47L79.05 546.14L73.38 548.11ZM70.89 542.62L76.56 540.65L78.53 546.32L72.86 548.29ZM70.38 542.8L76.05 540.83L78.02 546.5L72.35 548.47ZM69.87 542.98L75.53 541.01L77.5 546.67L71.84 548.64ZM69.36 543.16L75.02 541.18L77 546.85L71.33 548.82ZM68.85 543.33L74.52 541.36L76.49 547.03L70.82 549ZM68.35 543.51L74.01 541.54L75.98 547.2L70.32 549.17ZM67.84 543.68L73.51 541.71L75.48 547.38L69.82 549.35ZM67.35 543.86L73.01 541.88L74.98 547.55L69.32 549.52ZM66.85 544.03L72.52 542.06L74.49 547.72L68.82 549.7ZM66.35 544.2L72.02 542.23L73.99 547.89L68.33 549.87ZM65.86 544.37L71.53 542.4L73.5 548.07L67.84 550.04Z" fill="none" stroke="#000" stroke-width="1.5"/>
<path d="M63.3 547.3L67.6 543L71.6 547L67.6 551.5Z" fill="#000"/>
<line x1="259.8" y1="532.1" x2="129.01" y2="569.4" stroke="#000" stroke-width="2"/>
<path d="M119.2 572.2L129.84 565.01L128.59 569.52L132.03 572.7Z" fill="#000"/>
<line x1="52" y1="32.5" x2="165.5" y2="245.5" stroke="#1a1ab8" stroke-width="2" stroke-dasharray="9.4 5 1.6 5.3"/>
<line x1="125.6" y1="245.2" x2="461.5" y2="246.9" stroke="#1a1ab8" stroke-width="2" stroke-dasharray="1.6 4.1 8.8 4.34"/>
<line x1="190" y1="147.9" x2="378" y2="147.9" stroke="#1a1ab8" stroke-width="1.6" stroke-dasharray="6.4 3.6 1.4 3.7"/>
<line x1="314.6" y1="146.1" x2="414.5" y2="44.4" stroke="#1a1ab8" stroke-width="1.6" stroke-dasharray="1.4 4.8 7.8 4.8"/>
<line x1="114.9" y1="572.5" x2="416.4" y2="350.9" stroke="#1a1ab8" stroke-width="2" stroke-dasharray="1.6 5.4 11.8 5.4"/></svg>
</body></html>
